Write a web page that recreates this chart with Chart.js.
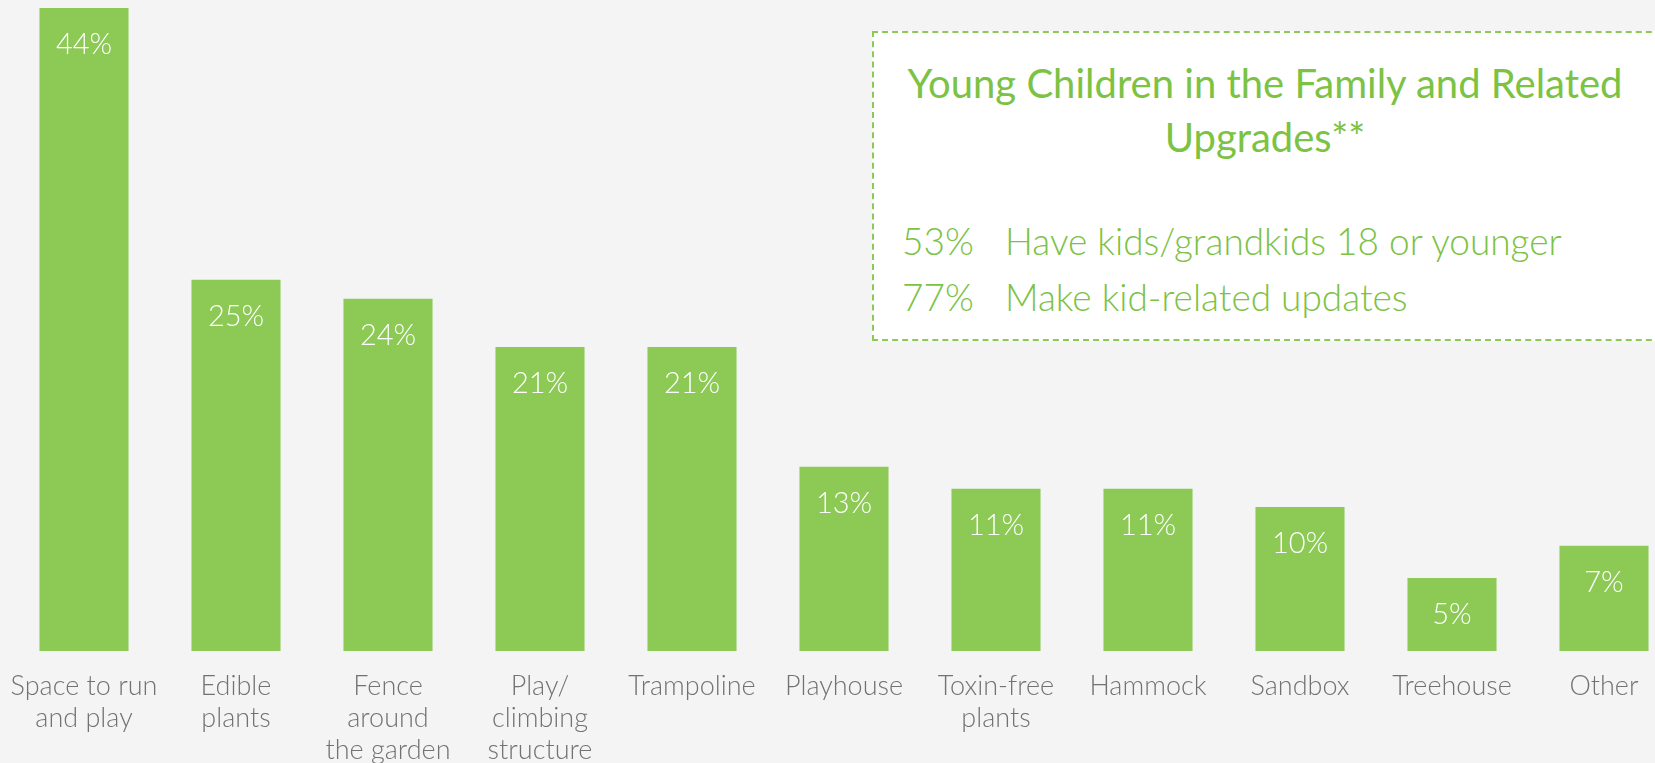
<!DOCTYPE html>
<html>
<head>
<meta charset="utf-8">
<script src="https://cdn.jsdelivr.net/npm/chart.js@4/dist/chart.umd.min.js"></script>
<style>
  html, body { margin: 0; padding: 0; background: #f4f4f4; overflow: hidden; }
  body { width: 1655px; height: 763px; position: relative; font-family: Lato, "Open Sans", sans-serif; }
  #wrap { position: absolute; left: 0; top: 0; width: 1688px; height: 763px; }
  #note {
    position: absolute; left: 872px; top: 31px; width: 820px; height: 310px;
    background: #ffffff; border: 2px dashed #8cc955; box-sizing: border-box;
  }
  #note .title {
    position: absolute; left: 0; width: 782px; top: 23px; text-align: center;
    color: #7cc243; font-size: 40px; font-weight: 400; line-height: 54px; white-space: nowrap;
  }
  #note .stat {
    position: absolute; left: 28px; color: #7cc243; font-size: 37px; font-weight: 300;
    line-height: 44px; white-space: nowrap;
  }
  #note .stat span { display: inline-block; width: 103px; }
</style>
</head>
<body>
<div id="wrap"><canvas id="chart" width="1688" height="763"></canvas></div>
<div id="note">
  <div class="title">Young Children in the Family and Related<br>Upgrades**</div>
  <div class="stat" style="top:186px"><span>53%</span>Have kids/grandkids 18 or younger</div>
  <div class="stat" style="top:242px"><span>77%</span>Make kid-related updates</div>
</div>
<script>
// Categories and values (bar heights; labels show them rounded)
const categories = [
  ['Space to run', 'and play'],
  ['Edible', 'plants'],
  ['Fence', 'around', 'the garden'],
  ['Play/', 'climbing', 'structure'],
  'Trampoline',
  'Playhouse',
  ['Toxin-free', 'plants'],
  'Hammock',
  'Sandbox',
  'Treehouse',
  'Other'
];
const shares = [44, 25.4, 24.1, 20.8, 20.8, 12.6, 11.1, 11.1, 9.85, 5, 7.2];

// Draw the percentage inside the top of each bar
const valueLabels = {
  id: 'valueLabels',
  afterDatasetsDraw(chart) {
    const ctx = chart.ctx;
    const meta = chart.getDatasetMeta(0);
    ctx.save();
    ctx.fillStyle = '#ffffff';
    ctx.font = '300 29px Lato, "Open Sans", sans-serif';
    ctx.textAlign = 'center';
    ctx.textBaseline = 'middle';
    meta.data.forEach((bar, i) => {
      ctx.fillText(Math.round(shares[i]) + '%', bar.x, bar.y + 37);
    });
    ctx.restore();
  }
};

new Chart(document.getElementById('chart').getContext('2d'), {
  type: 'bar',
  data: {
    labels: categories,
    datasets: [{
      data: shares,
      backgroundColor: '#8cc955',
      borderWidth: 0,
      barPercentage: 0.586,
      categoryPercentage: 1
    }]
  },
  options: {
    responsive: false,
    animation: false,
    layout: { padding: { top: 8, left: 8, right: 8, bottom: 0 } },
    plugins: { legend: { display: false }, tooltip: { enabled: false } },
    scales: {
      y: { display: false, min: 0, max: 44 },
      x: {
        grid: { display: false, drawTicks: false },
        border: { display: false },
        afterFit(scale) {
          // fixed axis band, and no extra side room for the wide first label
          scale.height = 112;
          scale.paddingLeft = 0;
          scale.paddingRight = 0;
        },
        ticks: {
          color: '#727272',
          padding: 20,
          maxRotation: 0,
          autoSkip: false,
          font: { family: 'Lato, "Open Sans", sans-serif', size: 27, weight: '300', lineHeight: 1.17 }
        }
      }
    }
  },
  plugins: [valueLabels]
});
</script>
</body>
</html>
